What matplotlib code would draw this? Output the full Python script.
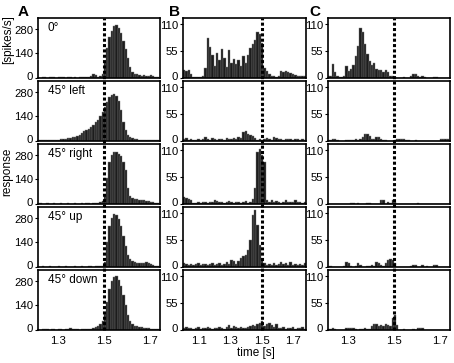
import matplotlib
matplotlib.use("Agg")
import matplotlib.pyplot as plt
import numpy as np
from matplotlib.lines import Line2D
from matplotlib.transforms import blended_transform_factory, ScaledTranslation

plt.rcParams['font.family'] = ['Liberation Sans', 'DejaVu Sans']

# ---------------- data ----------------
row_labels = ["0°", "45° left", "45° right", "45° up", "45° down"]
col_letters = ["A", "B", "C"]

# column A: bins of 0.01 s starting at 1.21
binA_start, binA_width = 1.21, 0.01
A1 = [3,2,5,3,2,3,5,3,2,3, 5,3,2,3,3,2,3,2,3,3, 5,5,8,12,20,15,8,10,25, 90,
      170,230,265,295,300,285,255,210,165, 115,60,35,25,20,15,12,15,10,12, 15,10,8,5]
A2 = [3,5,3,5,3,5,8,5,6,8, 10,10,12,15,15,20,25,30,35,45, 55,60,70,80,92,105,120,140,165,190,
      220,250,262,265,255,225,175,110,60,35, 20,15,12,10,8,8,5,5,8,5, 5,3,3]
A3 = [2,3,2,2,3,2,2,3,2,2, 3,2,2,3,2,2,3,2,2,3, 2,3,3,2,3,3,5,10,15,45,
      150,240,280,292,295,285,270,240,190,90, 45,35,30,28,25,22,20,18,15,12, 10,8,5]
A4 = [2,2,3,2,2,3,2,2,2,3, 2,2,3,2,2,2,3,2,2,3, 2,2,3,3,2,3,3,3,5,30,
      140,230,280,300,295,270,230,175,120,70, 45,35,30,25,22,20,25,30,20,15, 10,8,5]
A5 = [3,2,3,5,3,2,3,3,2,3, 3,2,5,8,10,5,3,3,2,3, 3,5,5,8,10,15,25,35,50,90,
      160,230,280,300,305,285,250,200,140,85, 50,35,25,20,15,15,12,12,10,8, 8,5,5]

# column B: bins of 0.015 s starting at 1.00
binB_start, binB_width = 1.00, 0.015
B1 = [17,15,17,8,3,3,3,3,5,20, 82,63,46,25,50,36,58,40,22,56, 30,39,29,36,25,45,30,46,60,70,
      78,94,90,72,20,15,8,5,5,3, 5,14,12,14,12,10,8,6,5,5, 5,4]
B2 = [4,6,3,5,3,2,4,3,5,8, 4,3,6,4,3,5,4,3,6,5, 4,6,5,8,6,18,20,15,12,10,
      6,3,4,3,5,6,4,3,8,6, 4,5,3,4,5,4,3,5,4,3, 4,3]
B3 = [15,12,10,8,3,3,4,2,5,4, 3,5,4,8,6,4,5,3,4,6, 5,3,4,5,3,4,6,3,5,10,
      32,105,112,100,85,8, 5,8,4,6,5,3,4,8,5,4, 5,9,4,5,3,4]
B4 = [8,6,4,7,5,6,8,5,6,7, 5,6,8,5,6,8,5,7,10,6, 15,12,6,12,18,22,25,35,55,105,
      115,85,45,15,8,5, 6,4,8,5,7,10,6,8,5,10, 4,6,4,7,4,8]
B5 = [5,6,4,5,3,4,6,3,4,5, 6,4,3,5,4,6,5,3,6,10, 5,8,6,5,6,4,5,6,8,10,
      9,12,14,18,8,12,15,10,6,12, 5,4,6,3,5,4,6,3,5,4, 6,3]

# column C: bins of 0.01 s starting at 1.21
binC_start, binC_width = 1.21, 0.01
C1 = [5,5,28,12,5,3,3,5,25,14, 19,26,44,66,101,94,69,48,34,26, 30,19,16,17,12,17,12,5,5,2,
      0,0,0,3,0,0,5,8,8,5, 3,5,3,1,0,0,3,3,0,0, 0,0,0]
C2 = [3,2,5,5,2,0,0,0,3,3, 2,3,5,3,5,8,14,14,10,5, 5,8,8,5,3,2,0,0,0,2,
      5,5,5,5,3,3,0,0,2,0, 0,0,0,0,0,0,0,0,0,5, 5,5,5]
C3 = [0,0,0,0,0,0,0,0,0,0, 3,3,0,3,0,0,0,3,3,0, 0,0,0,8,8,0,5,3,8,5,
      0,0,0,0,0,0,0,0,0,3, 0,0,0,0,0,0,0,0,0,0, 0,0,0]
C4 = [0,2,0,0,0,0,0,3,10,8, 3,0,3,8,5,0,0,2,3,5, 3,10,8,5,3,8,15,17,15,8,
      0,0,0,0,0,0,3,5,5,0, 0,5,0,3,0,0,5,5,0,0, 0,0,0]
C5 = [3,3,5,2,0,0,0,0,5,5, 5,5,3,0,3,3,5,3,3,8, 13,12,8,10,8,12,10,8,25,30,
      10,0,0,3,0,0,0,3,0,5, 5,5,0,0,0,0,0,0,0,0, 0,0,0]

xlims = [(1.214, 1.744), (1.0, 1.78), (1.214, 1.744)]
xticks = [[1.3, 1.5, 1.7], [1.1, 1.3, 1.5, 1.7], [1.3, 1.5, 1.7]]
yticks = [[0, 140, 280], [0, 55, 110], [0, 55, 110]]
ylims = [(0, 340), (0, 122), (0, 122)]
stim_time = 1.5

cols = [
    (binA_start, binA_width, [A1, A2, A3, A4, A5]),
    (binB_start, binB_width, [B1, B2, B3, B4, B5]),
    (binC_start, binC_width, [C1, C2, C3, C4, C5]),
]

# ---------------- layout ----------------
W, H = 454, 363
fig = plt.figure(figsize=(W / 100, H / 100), dpi=100)
col_left = [38, 183, 328]
col_w = [122, 123, 122]
row_top0, row_h, row_period = 18, 60, 63
fs = 8.2

axes = [[None] * 5 for _ in range(3)]
for c in range(3):
    start, width, series = cols[c]
    for r in range(5):
        top = row_top0 + r * row_period
        ax = fig.add_axes([col_left[c] / W, 1 - (top + row_h) / H, col_w[c] / W, row_h / H])
        vals = np.array(series[r], dtype=float)
        edges = start + width * np.arange(len(vals))
        ax.bar(edges, vals, width=width, align='edge', color='#1c1c1c',
               edgecolor='#7a7a7a', linewidth=0.3)
        ax.set_xlim(*xlims[c])
        ax.set_ylim(*ylims[c])
        ax.set_yticks(yticks[c])
        ax.set_yticklabels([str(v) for v in yticks[c]])
        ax.set_xticks(xticks[c])
        ax.tick_params(axis='y', direction='out', length=2, width=0.8, pad=1.5, labelsize=fs)
        ax.tick_params(axis='x', length=0, pad=4, labelsize=fs)
        if r < 4:
            ax.set_xticklabels([])
        else:
            ax.set_xticklabels([f"{t:.1f}" for t in xticks[c]])
        # nudge the lowest label up and the top label down, as in the reference
        labs = ax.get_yticklabels()
        labs[0].set_transform(labs[0].get_transform() + ScaledTranslation(0, 2.2 / 100, fig.dpi_scale_trans))
        labs[-1].set_transform(labs[-1].get_transform() + ScaledTranslation(0, -1.2 / 100, fig.dpi_scale_trans))
        for s in ax.spines.values():
            s.set_linewidth(1.2)
        if c == 0:
            ax.text(0.08, 0.93, row_labels[r], transform=ax.transAxes,
                    ha='left', va='top', fontsize=8.5)
        axes[c][r] = ax

    # dotted stimulus line spanning all rows of this column
    tr = blended_transform_factory(axes[c][0].transData, fig.transFigure)
    y_top = 1 - row_top0 / H
    y_bot = 1 - (row_top0 + 4 * row_period + row_h) / H
    ln = Line2D([stim_time, stim_time], [y_bot, y_top], transform=tr, color='black',
                linewidth=2.2, linestyle=(0, (1, 0.75)), zorder=5)
    fig.add_artist(ln)

# panel letters
for c, x in zip(range(3), [23, 174, 315]):
    fig.text(x / W, 1 - 12 / H, col_letters[c], fontsize=11, fontweight='bold',
             ha='center', va='center')

fig.text(8 / W, 1 - 40 / H, '[spikes/s]', rotation=90, ha='center', va='center', fontsize=8.5)
fig.text(7 / W, 1 - 172 / H, 'response', rotation=90, ha='center', va='center', fontsize=8.5)
fig.text(256 / W, 1 - 353 / H, 'time [s]', ha='center', va='center', fontsize=8.5)

fig.savefig('out.png', dpi=100)
